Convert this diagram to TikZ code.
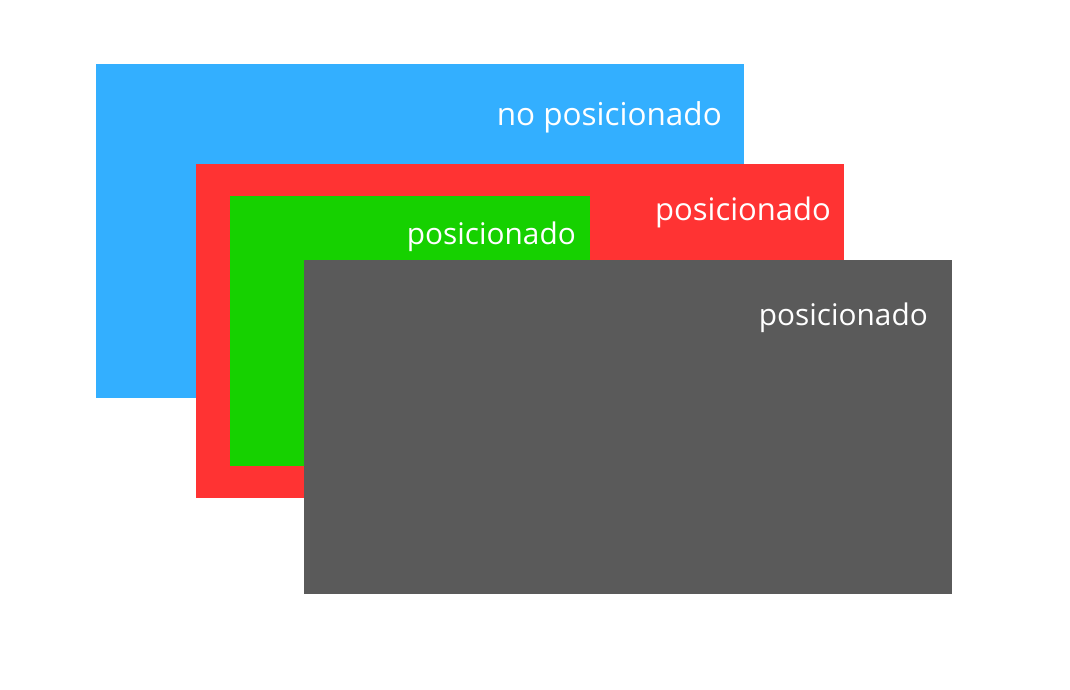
\documentclass[tikz,border=0pt]{standalone}
\usepackage{fontspec}
\setmainfont{Open Sans}
\usepackage{xcolor}
\definecolor{layerblue}{HTML}{33AFFF}
\definecolor{layerred}{HTML}{FF3333}
\definecolor{layergreen}{HTML}{16D100}
\definecolor{layergray}{HTML}{5A5A5A}
\begin{document}
\begin{tikzpicture}[
    x=1pt, y=-1pt,
    layer/.style = {rectangle, anchor=north west, inner sep=0pt, outer sep=0pt,
                    minimum width=648pt, minimum height=334pt},
    tag/.style   = {anchor=base east, inner sep=0pt, text=white,
                    font=\fontsize{31}{36}\selectfont},
    smalltag/.style = {tag, font=\fontsize{29.8}{35}\selectfont}
]
\useasboundingbox[fill=white] (0,0) rectangle (1070,690);

%% ---- layers, back to front ----
\node[layer, fill=layerblue] (blue)  at (96, 64)  {};
\node[layer, fill=layerred]  (red)   at (196,164) {};
\node[layer, fill=layergreen, minimum width=360pt, minimum height=270pt]
                             (green) at (230,196) {};
\node[layer, fill=layergray] (gray)  at (304,260) {};

%% ---- labels ----
\node[tag, font=\fontsize{31.5}{36}\selectfont]
           (bluetag)  at (722,125) {no posicionado};
\node[tag] (redtag)   at (831,220) {posicionado};
\node[smalltag] (greentag) at (576,244) {posicionado};
\node[smalltag] (graytag)  at (928,325) {posicionado};

\end{tikzpicture}
\end{document}
